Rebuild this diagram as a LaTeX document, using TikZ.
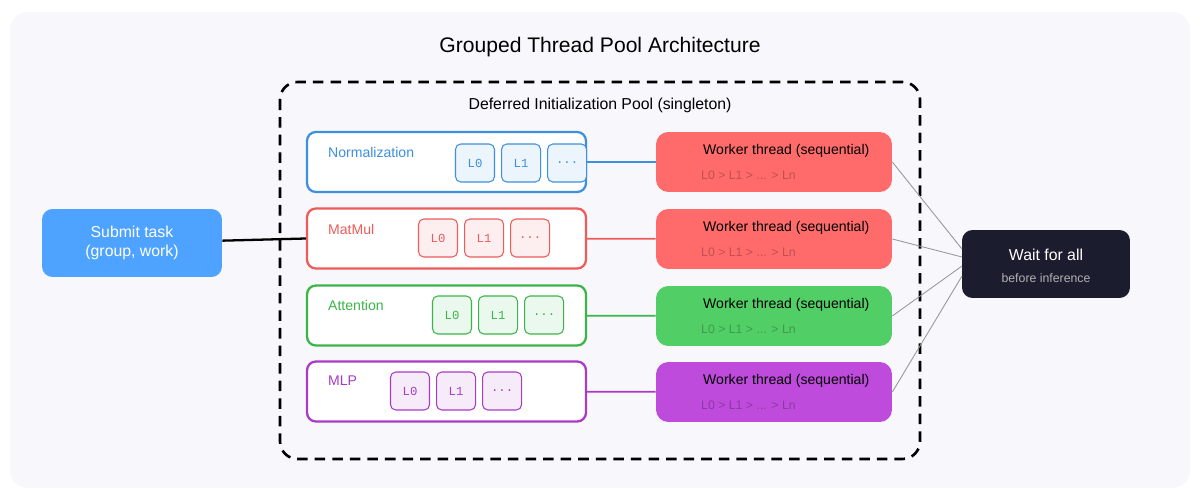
\documentclass[tikz,border=0pt]{standalone}
\usepackage{fontspec}
\setmainfont{Liberation Sans}
\setmonofont{Liberation Mono}
\usetikzlibrary{positioning}
\definecolor{bgc}{HTML}{F8F8FC}
\definecolor{normc}{HTML}{3D8FE0}
\definecolor{matc}{HTML}{EE5B5B}
\definecolor{attc}{HTML}{3BB54A}
\definecolor{mlpc}{HTML}{A93BC6}
\definecolor{redw}{HTML}{FF6B6B}
\definecolor{greenw}{HTML}{51CF66}
\definecolor{purplew}{HTML}{BE4BDB}
\definecolor{submitc}{HTML}{4DA3FF}
\definecolor{waitc}{HTML}{1B1C2E}
\tikzset{
  group/.style={draw=#1, line width=1.3pt, rounded corners=5pt, fill=white,
    minimum width=5.58cm, minimum height=1.2cm},
  layer/.style={draw=#1, line width=0.6pt, rounded corners=3pt, fill=#1!10,
    minimum width=0.78cm, minimum height=0.76cm, text=#1,
    font=\ttfamily\scriptsize, inner sep=0pt},
  worker/.style={fill=#1, rounded corners=7pt, minimum width=4.72cm,
    minimum height=1.2cm},
  link/.style={line width=1pt, draw=#1},
  gather/.style={draw=gray!80, line width=0.5pt}
}
\begin{document}
\begin{tikzpicture}[x=0.02cm, y=-0.02cm]
  \useasboundingbox (0,0) rectangle (1200,500);
  \fill[bgc, rounded corners=10pt] (10,12) rectangle (1190,488);
  \node (title) at (600,47) {\large Grouped Thread Pool Architecture};
  \draw[line width=1.5pt, dash pattern=on 6pt off 4pt, rounded corners=10pt]
    (280,82) rectangle (920,459);
  \node (pool) at (600,105) {\small Deferred Initialization Pool (singleton)};

  % groups
  \node[group=normc] (norm) at (446.5,162) {};
  \node[group=matc] (mat) at (446.5,238.5) {};
  \node[group=attc] (att) at (446.5,315.5) {};
  \node[group=mlpc] (mlp) at (446.5,391.5) {};
  \node[anchor=west, text=normc, font=\footnotesize] (normlab) at (322,152) {Normalization};
  \node[anchor=west, text=matc, font=\footnotesize] (matlab) at (322,229) {MatMul};
  \node[anchor=west, text=attc, font=\footnotesize] (attlab) at (322,305) {Attention};
  \node[anchor=west, text=mlpc, font=\footnotesize] (mlplab) at (322,381) {MLP};

  % layers
  \foreach \c/\x/\y/\n in {normc/475/163/norm, matc/438/238/mat, attc/452/315/att, mlpc/410/391/mlp}{
    \node[layer=\c] (\n l0) at (\x,\y) {L0};
    \node[layer=\c, right=0.12cm of \n l0] (\n l1) {L1};
    \node[layer=\c, right=0.12cm of \n l1] (\n ld) {...};
  }

  % workers
  \foreach \c/\y/\n in {redw/162/w1, redw/239/w2, greenw/316/w3, purplew/392/w4}{
    \node[worker=\c] (\n) at (774,\y) {};
    \node[anchor=west, font=\footnotesize] (\n t) at (697,\y-11) {Worker thread (sequential)};
    \node[anchor=west, font=\scriptsize, text=black, opacity=0.25] (\n s) at (695,\y+13) {L0 > L1 > ... > Ln};
  }
  \draw[link=normc] (norm) -- (w1);
  \draw[link=matc] (mat) -- (w2);
  \draw[link=attc] (att) -- (w3);
  \draw[link=mlpc] (mlp) -- (w4);

  % submit and wait
  \node[fill=submitc, rounded corners=6pt, minimum width=3.6cm, minimum height=1.36cm,
    text=white, font=\small, align=center] (submit) at (132,243) {Submit task\\(group, work)};
  \draw[line width=1.3pt] (submit) -- (mat.west);
  \node[fill=waitc, rounded corners=6pt, minimum width=3.36cm, minimum height=1.36cm] (wait) at (1046,264) {};
  \node[text=white, font=\small] (waitt) at (1046,255) {Wait for all};
  \node[text=white!70!black, font=\scriptsize] (waits) at (1046,278) {before inference};
  \coordinate (in1) at (962,249);
  \coordinate (in2) at (962,257);
  \coordinate (in3) at (962,266);
  \coordinate (in4) at (962,276);
  \draw[gather] (w1.east) -- (in1);
  \draw[gather] (w2.east) -- (in2);
  \draw[gather] (w3.east) -- (in3);
  \draw[gather] (w4.east) -- (in4);
\end{tikzpicture}
\end{document}
